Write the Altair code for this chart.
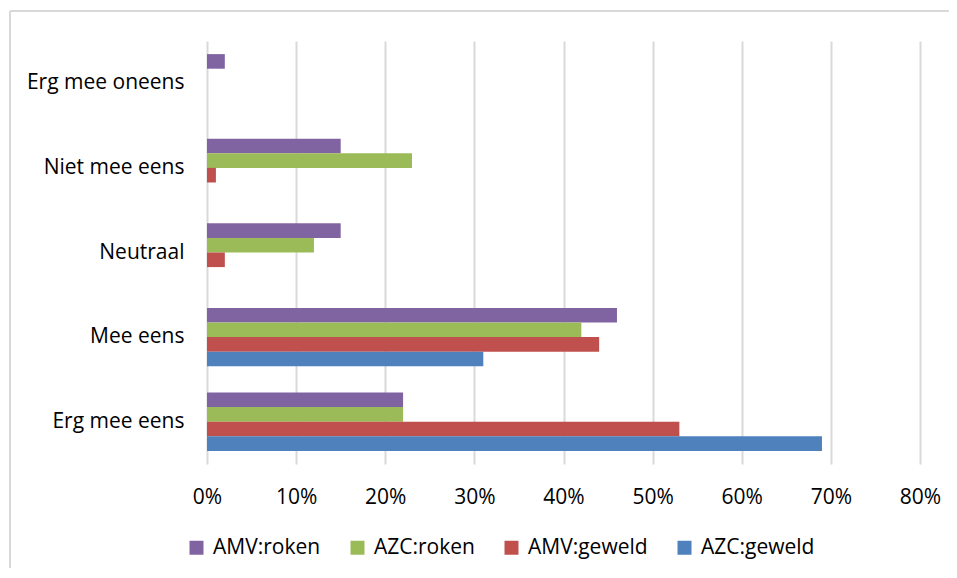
import altair as alt
import pandas as pd

categories = ["Erg mee oneens", "Niet mee eens", "Neutraal", "Mee eens", "Erg mee eens"]
series = ["AMV:roken", "AZC:roken", "AMV:geweld", "AZC:geweld"]
colors = ["#8064A2", "#9BBB59", "#C0504D", "#4F81BD"]

amv_roken = [0.02, 0.15, 0.15, 0.46, 0.22]
azc_roken = [0.00, 0.23, 0.12, 0.42, 0.22]
amv_geweld = [0.00, 0.01, 0.02, 0.44, 0.53]
azc_geweld = [0.00, 0.00, 0.00, 0.31, 0.69]

x_ticks = [0, 0.1, 0.2, 0.3, 0.4, 0.5, 0.6, 0.7, 0.8]

rows = []
for name, vals in zip(series, [amv_roken, azc_roken, amv_geweld, azc_geweld]):
    for cat, v in zip(categories, vals):
        rows.append({"categorie": cat, "reeks": name, "waarde": v})
df = pd.DataFrame(rows)

FONT = "Open Sans"
FS = 21

# light grey chart-area border (top and left edges visible in the reference)
frame_top = alt.Chart(alt.Data(values=[{}])).mark_rule(
    color="#D9D9D9", strokeWidth=2
).encode(x=alt.value(-197), x2=alt.value(800), y=alt.value(-30))
frame_left = alt.Chart(alt.Data(values=[{}])).mark_rule(
    color="#D9D9D9", strokeWidth=2
).encode(x=alt.value(-197), y=alt.value(-30), y2=alt.value(640))

bars = alt.Chart(df).mark_bar().encode(
    x=alt.X(
        "waarde:Q",
        scale=alt.Scale(domain=[0, 0.8], nice=False),
        axis=alt.Axis(
            values=x_ticks, format=".0%", title=None, grid=True,
            gridColor="#D9D9D9", gridWidth=2, domain=False, ticks=False,
            labelFont=FONT, labelFontSize=FS, labelColor="#000000",
            labelPadding=22, labelFlush=False,
        ),
    ),
    y=alt.Y(
        "categorie:N", sort=categories,
        scale=alt.Scale(paddingInner=0.31, paddingOuter=0.155),
        axis=alt.Axis(
            title=None, ticks=False, domain=False,
            labelFont=FONT, labelFontSize=FS, labelColor="#000000",
            labelPadding=23,
        ),
    ),
    yOffset=alt.YOffset(
        "reeks:N", sort=series,
        scale=alt.Scale(paddingInner=0, paddingOuter=0),
    ),
    color=alt.Color(
        "reeks:N",
        scale=alt.Scale(domain=series, range=colors),
        legend=alt.Legend(
            title=None, orient="none", legendX=-21, legendY=496,
            direction="horizontal", symbolType="square", symbolSize=196,
            symbolStrokeWidth=0, labelFont=FONT, labelFontSize=FS,
            labelColor="#000000", labelOffset=6, columnPadding=26,
        ),
    ),
)

chart = alt.layer(frame_top, frame_left, bars).properties(
    width=713,
    height=423,
    autosize=alt.AutoSizeParams(type="none"),
    padding={"left": 199, "top": 33, "right": 29, "bottom": 104},
).configure_view(stroke=None)

chart.save("out.html", embed_options={"renderer": "svg", "actions": False})
